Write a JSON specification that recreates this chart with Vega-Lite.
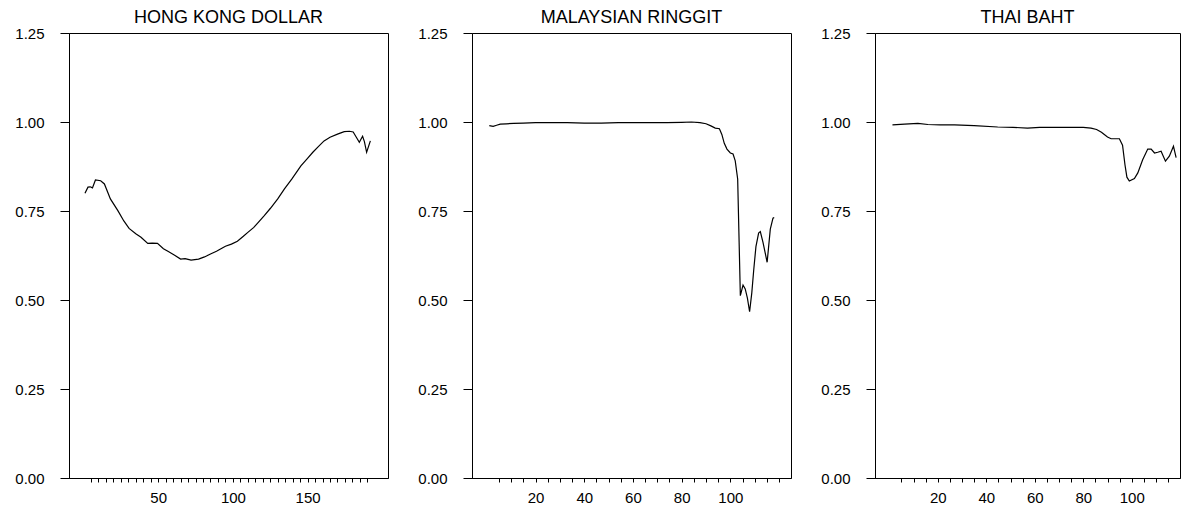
{
  "$schema": "https://vega.github.io/schema/vega-lite/v6.json",
  "padding": {"left": 14, "top": 8, "right": 0, "bottom": 0},
  "spacing": 28,
  "background": "white",
  "config": {
    "view": {"stroke": "black", "strokeWidth": 1},
    "font": "Liberation Sans",
    "title": {"fontSize": 18, "fontWeight": "normal", "color": "black", "font": "Liberation Sans", "offset": -1, "anchor": "middle"},
    "axis": {"grid": false, "domainColor": "black", "tickColor": "black", "labelColor": "black", "labelFont": "Liberation Sans", "labelFontSize": 15, "title": null, "domainWidth": 1, "tickWidth": 1}
  },
  "datasets": {
    "hkd": [
      {"x": 1, "y": 0.800}, {"x": 3, "y": 0.817}, {"x": 4.5, "y": 0.818}, {"x": 6, "y": 0.815}, {"x": 8, "y": 0.837},
      {"x": 11.5, "y": 0.835}, {"x": 14, "y": 0.826}, {"x": 18, "y": 0.784}, {"x": 23, "y": 0.751}, {"x": 27, "y": 0.722},
      {"x": 30.5, "y": 0.701}, {"x": 35, "y": 0.686}, {"x": 38.5, "y": 0.676}, {"x": 43, "y": 0.659}, {"x": 46, "y": 0.660},
      {"x": 49.5, "y": 0.659}, {"x": 53.5, "y": 0.644}, {"x": 56.5, "y": 0.637}, {"x": 61, "y": 0.626}, {"x": 65, "y": 0.615},
      {"x": 68, "y": 0.616}, {"x": 72, "y": 0.612}, {"x": 77, "y": 0.615}, {"x": 81, "y": 0.621}, {"x": 85, "y": 0.629},
      {"x": 89, "y": 0.637}, {"x": 92, "y": 0.644}, {"x": 95, "y": 0.651}, {"x": 99, "y": 0.657}, {"x": 103, "y": 0.665},
      {"x": 107, "y": 0.679}, {"x": 110, "y": 0.690}, {"x": 114, "y": 0.704}, {"x": 117, "y": 0.718}, {"x": 121, "y": 0.737},
      {"x": 125, "y": 0.757}, {"x": 130, "y": 0.784}, {"x": 134.5, "y": 0.812}, {"x": 139.5, "y": 0.840}, {"x": 145.5, "y": 0.877},
      {"x": 149.5, "y": 0.896}, {"x": 153.5, "y": 0.915}, {"x": 157, "y": 0.930}, {"x": 161, "y": 0.947}, {"x": 165, "y": 0.957},
      {"x": 170, "y": 0.966}, {"x": 174.5, "y": 0.973}, {"x": 178, "y": 0.974}, {"x": 180.5, "y": 0.972}, {"x": 182.5, "y": 0.958},
      {"x": 184.6, "y": 0.943}, {"x": 186.8, "y": 0.960}, {"x": 188, "y": 0.945}, {"x": 189.5, "y": 0.915}, {"x": 192, "y": 0.947}
    ],
    "myr": [
      {"x": 1, "y": 0.990}, {"x": 2.6, "y": 0.988}, {"x": 4, "y": 0.991}, {"x": 5.5, "y": 0.994}, {"x": 8, "y": 0.995},
      {"x": 11, "y": 0.996}, {"x": 15, "y": 0.997}, {"x": 20, "y": 0.998}, {"x": 26, "y": 0.998}, {"x": 33, "y": 0.998},
      {"x": 40, "y": 0.997}, {"x": 47, "y": 0.997}, {"x": 54, "y": 0.998}, {"x": 60, "y": 0.998}, {"x": 67, "y": 0.998},
      {"x": 74, "y": 0.998}, {"x": 80, "y": 0.999}, {"x": 84, "y": 1.000}, {"x": 87.5, "y": 0.998}, {"x": 90, "y": 0.995},
      {"x": 92, "y": 0.989}, {"x": 93.8, "y": 0.983}, {"x": 95.5, "y": 0.981}, {"x": 96.5, "y": 0.965}, {"x": 97.5, "y": 0.940},
      {"x": 98.6, "y": 0.924}, {"x": 100, "y": 0.913}, {"x": 101.1, "y": 0.910}, {"x": 102, "y": 0.891}, {"x": 103, "y": 0.840},
      {"x": 104.1, "y": 0.512}, {"x": 105.2, "y": 0.542}, {"x": 106.1, "y": 0.531}, {"x": 107, "y": 0.505}, {"x": 107.9, "y": 0.467},
      {"x": 108.8, "y": 0.520}, {"x": 109.6, "y": 0.585}, {"x": 110.5, "y": 0.650}, {"x": 111.6, "y": 0.688}, {"x": 112.3, "y": 0.692},
      {"x": 113.4, "y": 0.662}, {"x": 115.1, "y": 0.606}, {"x": 116.4, "y": 0.699}, {"x": 117.5, "y": 0.730}, {"x": 118, "y": 0.732}
    ],
    "thb": [
      {"x": 1.3, "y": 0.992}, {"x": 6.3, "y": 0.994}, {"x": 11.8, "y": 0.996}, {"x": 15.9, "y": 0.993}, {"x": 21, "y": 0.992},
      {"x": 26.9, "y": 0.992}, {"x": 35, "y": 0.990}, {"x": 44.7, "y": 0.986}, {"x": 51, "y": 0.985}, {"x": 57, "y": 0.983},
      {"x": 62, "y": 0.985}, {"x": 68, "y": 0.985}, {"x": 74, "y": 0.985}, {"x": 80, "y": 0.985}, {"x": 83.2, "y": 0.983},
      {"x": 85.5, "y": 0.979}, {"x": 87.5, "y": 0.971}, {"x": 90, "y": 0.958}, {"x": 91.5, "y": 0.953}, {"x": 94.9, "y": 0.953},
      {"x": 96.2, "y": 0.935}, {"x": 97.2, "y": 0.880}, {"x": 98, "y": 0.845}, {"x": 99, "y": 0.834}, {"x": 101.1, "y": 0.841},
      {"x": 102.5, "y": 0.857}, {"x": 104.5, "y": 0.894}, {"x": 106.6, "y": 0.924}, {"x": 108, "y": 0.924}, {"x": 109.4, "y": 0.913},
      {"x": 110.7, "y": 0.915}, {"x": 112.1, "y": 0.918}, {"x": 113.9, "y": 0.890}, {"x": 115.5, "y": 0.904}, {"x": 117.2, "y": 0.932},
      {"x": 118.3, "y": 0.900}
    ]
  },
  "hconcat": [
    {
      "title": "HONG KONG DOLLAR",
      "width": 319,
      "height": 445,
      "data": {"name": "hkd"},
      "mark": {"type": "line", "color": "black", "strokeWidth": 1.2},
      "encoding": {
        "x": {"field": "x", "type": "quantitative",
          "scale": {"domain": [-9.7, 203.8], "nice": false, "zero": false},
          "axis": {"values": [5,10,15,20,25,30,35,40,45,50,55,60,65,70,75,80,85,90,95,100,105,110,115,120,125,130,135,140,145,150,155,160,165,170,175,180,185,190],
            "labelExpr": "datum.value % 50 === 0 ? datum.label : ''", "tickSize": 4, "labelPadding": 8}},
        "y": {"field": "y", "type": "quantitative",
          "scale": {"domain": [0, 1.25], "nice": false, "zero": false},
          "axis": {"values": [0, 0.25, 0.5, 0.75, 1, 1.25], "format": ".2f", "tickSize": 9, "labelPadding": 16}}
      }
    },
    {
      "title": "MALAYSIAN RINGGIT",
      "width": 319,
      "height": 445,
      "data": {"name": "myr"},
      "mark": {"type": "line", "color": "black", "strokeWidth": 1.2},
      "encoding": {
        "x": {"field": "x", "type": "quantitative",
          "scale": {"domain": [-6.1, 124.9], "nice": false, "zero": false},
          "axis": {"values": [5,10,15,20,25,30,35,40,45,50,55,60,65,70,75,80,85,90,95,100,105,110,115,120],
            "labelExpr": "datum.value % 20 === 0 && datum.value <= 100 ? datum.label : ''", "tickSize": 4, "labelPadding": 8}},
        "y": {"field": "y", "type": "quantitative",
          "scale": {"domain": [0, 1.25], "nice": false, "zero": false},
          "axis": {"values": [0, 0.25, 0.5, 0.75, 1, 1.25], "format": ".2f", "tickSize": 9, "labelPadding": 16}}
      }
    },
    {
      "title": "THAI BAHT",
      "width": 305,
      "height": 445,
      "data": {"name": "thb"},
      "mark": {"type": "line", "color": "black", "strokeWidth": 1.2},
      "encoding": {
        "x": {"field": "x", "type": "quantitative",
          "scale": {"domain": [-5.9, 119.9], "nice": false, "zero": false},
          "axis": {"values": [5,10,15,20,25,30,35,40,45,50,55,60,65,70,75,80,85,90,95,100,105,110,115],
            "labelExpr": "datum.value % 20 === 0 && datum.value <= 100 ? datum.label : ''", "tickSize": 4, "labelPadding": 8}},
        "y": {"field": "y", "type": "quantitative",
          "scale": {"domain": [0, 1.25], "nice": false, "zero": false},
          "axis": {"values": [0, 0.25, 0.5, 0.75, 1, 1.25], "format": ".2f", "tickSize": 9, "labelPadding": 16}}
      }
    }
  ]
}
